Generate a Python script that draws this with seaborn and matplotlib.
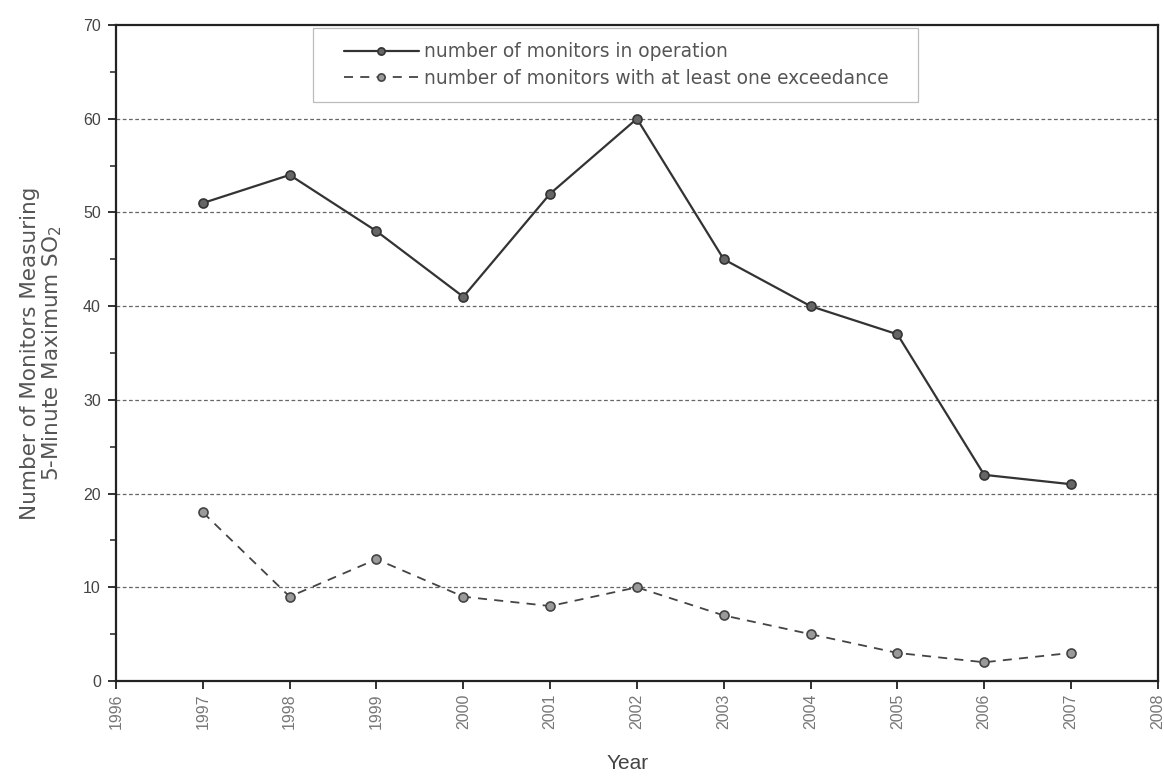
import matplotlib
matplotlib.use("Agg")
import matplotlib.pyplot as plt
from matplotlib.patches import Rectangle
import seaborn as sns
import pandas as pd

years = [1997, 1998, 1999, 2000, 2001, 2002, 2003, 2004, 2005, 2006, 2007]
in_operation = [51, 54, 48, 41, 52, 60, 45, 40, 37, 22, 21]
with_exceedance = [18, 9, 13, 9, 8, 10, 7, 5, 3, 2, 3]
x_ticks = list(range(1996, 2009))
y_ticks = list(range(0, 71, 10))

label_op = "number of monitors in operation"
label_ex = "number of monitors with at least one exceedance"

sns.set_theme(style="white")
plt.rcParams["font.family"] = ["Liberation Sans", "DejaVu Sans"]

df = pd.DataFrame({"year": years, "op": in_operation, "ex": with_exceedance})

fig = plt.figure(figsize=(11.64, 7.81), dpi=100)
ax = fig.add_axes([0.0997, 0.128, 0.895, 0.840])

sns.lineplot(data=df, x="year", y="op", ax=ax, color="#333333", lw=1.6,
             marker="o", markersize=6.5, markerfacecolor="#666666",
             markeredgecolor="#333333", markeredgewidth=1.2, label=label_op)
sns.lineplot(data=df, x="year", y="ex", ax=ax, color="#444444", lw=1.3,
             linestyle=(0, (5, 4)), marker="o", markersize=6.5,
             markerfacecolor="#9a9a9a", markeredgecolor="#444444",
             markeredgewidth=1.2, label=label_ex)

ax.set_xlim(1996, 2008)
ax.set_ylim(0, 70)
ax.set_xticks(x_ticks)
ax.set_xticklabels([str(t) for t in x_ticks], rotation=90, color="#777777", fontsize=11.5)
ax.set_yticks(y_ticks)
ax.set_yticklabels([str(t) for t in y_ticks], color="#444444", fontsize=11.5)
ax.set_yticks(list(range(5, 70, 10)), minor=True)
ax.tick_params(axis="both", which="major", direction="out", length=6, width=1.3,
               color="#222222", bottom=True, left=True, pad=5)
ax.tick_params(axis="x", which="major", pad=3)
ax.tick_params(axis="y", which="minor", direction="out", length=4, width=1.1,
               color="#222222", left=True)

for y in y_ticks[1:-1]:
    ax.axhline(y, color="#666666", lw=0.9, linestyle=(0, (3, 2)), zorder=0)

for side in ["left", "bottom", "top", "right"]:
    ax.spines[side].set_visible(True)
    ax.spines[side].set_color("#222222")
    ax.spines[side].set_linewidth(1.6)

ax.set_xlabel("Year", fontsize=15, color="#444444")
ax.xaxis.set_label_coords(0.491, -0.111)
ax.set_ylabel("Number of Monitors Measuring\n5-Minute Maximum SO$_2$",
              fontsize=15.5, color="#555555", family="DejaVu Sans", linespacing=1.0)
ax.yaxis.set_label_coords(-0.050, 0.5)

# legend box drawn as a plain rectangle, entries placed inside it
ax.add_patch(Rectangle((0.189, 0.883), 0.581, 0.112, transform=ax.transAxes,
                       facecolor="white", edgecolor="#bbbbbb", lw=0.9, zorder=3))
leg = ax.legend(loc="upper left", bbox_to_anchor=(0.210, 0.988), frameon=False,
                prop={"family": "DejaVu Sans", "size": 13.4}, handlelength=4.0,
                borderpad=0, labelspacing=0.4, handletextpad=0.3, markerscale=0.8)
leg.set_zorder(4)
for t in leg.get_texts():
    t.set_color("#555555")

fig.savefig("out.png", dpi=100, facecolor="white")
